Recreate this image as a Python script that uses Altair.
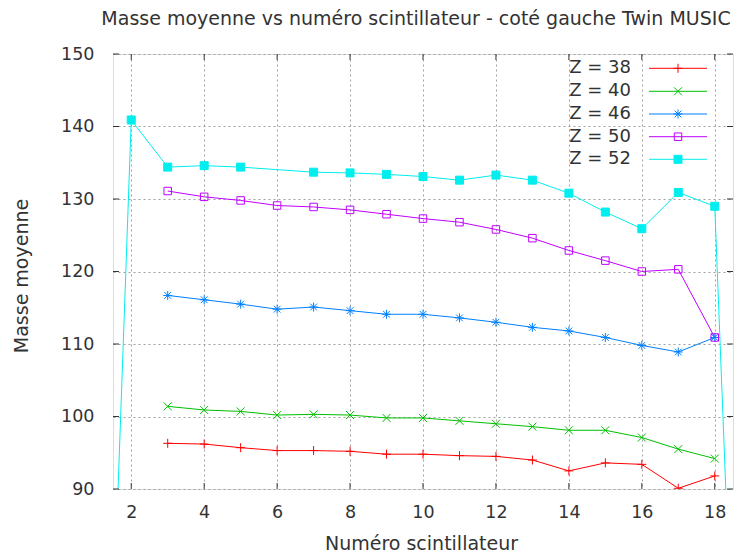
import altair as alt
import pandas as pd

# ---- data ----
x_main = [3, 4, 5, 6, 7, 8, 9, 10, 11, 12, 13, 14, 15, 16, 17, 18]
z38 = [96.3, 96.2, 95.7, 95.3, 95.3, 95.2, 94.8, 94.8, 94.6, 94.5, 94.0, 92.5, 93.6, 93.4, 90.1, 91.8]
z40 = [101.4, 100.9, 100.7, 100.2, 100.3, 100.2, 99.8, 99.8, 99.4, 99.0, 98.6, 98.1, 98.1, 97.1, 95.5, 94.2]
z46 = [116.7, 116.1, 115.5, 114.8, 115.1, 114.6, 114.1, 114.1, 113.6, 113.0, 112.3, 111.8, 110.9, 109.8, 108.9, 110.9]
z50 = [131.1, 130.3, 129.8, 129.1, 128.9, 128.5, 127.9, 127.3, 126.8, 125.8, 124.6, 122.9, 121.5, 120.0, 120.3, 110.9]
x_z52 = [1, 2, 3, 4, 5, 7, 8, 9, 10, 11, 12, 13, 14, 15, 16, 17, 18, 19]
z52 = [0.0, 140.9, 134.4, 134.6, 134.4, 133.7, 133.6, 133.4, 133.1, 132.6, 133.3, 132.6, 130.8, 128.2, 125.9, 130.9, 129.0, 0.0]

labels = ["Z = 38", "Z = 40", "Z = 46", "Z = 50", "Z = 52"]
colors = ["#ff0000", "#00c000", "#0080ff", "#c000ff", "#00eeee"]
x_ticks = [2, 4, 6, 8, 10, 12, 14, 16, 18]
y_ticks = [90, 100, 110, 120, 130, 140, 150]

PLUS = "M-1,0L1,0M0,-1L0,1"
CROSS = "M-1,-1L1,1M-1,1L1,-1"
STAR = "M-1,0L1,0M0,-1L0,1M-0.75,-0.75L0.75,0.75M-0.75,0.75L0.75,-0.75"
SQUARE = "M-1,-1L1,-1L1,1L-1,1Z"
shapes = [PLUS, CROSS, STAR, SQUARE, SQUARE]
fills = ["transparent", "transparent", "transparent", "transparent", "#00eeee"]
sizes = [81, 64, 81, 56, 64]

rows = []
for lab, ys in zip(labels[:4], [z38, z40, z46, z50]):
    for x, y in zip(x_main, ys):
        rows.append({"x": x, "y": y, "serie": lab})
for x, y in zip(x_z52, z52):
    rows.append({"x": x, "y": y, "serie": labels[4]})
df = pd.DataFrame(rows)

W, H = 620, 435
FONT = "DejaVu Sans"
TXT = "#333333"
FS_TICK = 17.5
FS_TITLE = 19
FS_KEY = 18

xs = alt.Scale(domain=[1.5, 18.5], nice=False, zero=False)
ys_ = alt.Scale(domain=[90, 150], nice=False, zero=False)

col_scale = alt.Scale(domain=labels, range=colors)

base = alt.Chart(df)

lines = base.mark_line(strokeWidth=1, clip=True).encode(
    x=alt.X("x:Q", scale=xs,
            axis=alt.Axis(values=x_ticks, title="Numéro scintillateur", grid=True,
                          gridDash=[2, 3], gridColor="#a0a0a0", gridWidth=1,
                          ticks=False, tickSize=0, domain=False,
                          labelFont=FONT, labelFontSize=FS_TICK, labelColor=TXT, labelPadding=14,
                          titleFont=FONT, titleFontSize=FS_TITLE, titleColor=TXT, titleFontWeight="normal",
                          titleBaseline="alphabetic", titleY=60, titleX=308)),
    y=alt.Y("y:Q", scale=ys_,
            axis=alt.Axis(values=y_ticks, title="Masse moyenne", grid=True,
                          gridDash=[2, 3], gridColor="#a0a0a0", gridWidth=1,
                          ticks=False, tickSize=0, domain=False,
                          labelFont=FONT, labelFontSize=FS_TICK, labelColor=TXT, labelPadding=19,
                          titleFont=FONT, titleFontSize=FS_TITLE, titleColor=TXT, titleFontWeight="normal",
                          titleAngle=-90, titleBaseline="alphabetic", titleAlign="center",
                          titleX=-86, titleY=H / 2 + 4)),
    color=alt.Color("serie:N", scale=col_scale, legend=None),
    detail="serie:N",
    order="x:Q",
)

layers = [lines]
for lab, c, shp, f, s in zip(labels, colors, shapes, fills, sizes):
    pts = alt.Chart(df[df["serie"] == lab]).mark_point(
        shape=shp, size=s, stroke=c, fill=f, filled=(f != "transparent"),
        strokeWidth=1, opacity=1, clip=True
    ).encode(x=alt.X("x:Q", scale=xs), y=alt.Y("y:Q", scale=ys_))
    layers.append(pts)

# inner (mirrored) ticks, gnuplot style
tdx = pd.DataFrame({"t": x_ticks})
tdy = pd.DataFrame({"t": y_ticks})
tick_style = dict(color="#333333", strokeWidth=1)
layers.append(alt.Chart(tdx).mark_rule(**tick_style).encode(
    x=alt.X("t:Q", scale=xs), y=alt.value(H), y2=alt.value(H - 6)))
layers.append(alt.Chart(tdx).mark_rule(**tick_style).encode(
    x=alt.X("t:Q", scale=xs), y=alt.value(0), y2=alt.value(6)))
layers.append(alt.Chart(tdy).mark_rule(**tick_style).encode(
    y=alt.Y("t:Q", scale=ys_), x=alt.value(0), x2=alt.value(6)))
layers.append(alt.Chart(tdy).mark_rule(**tick_style).encode(
    y=alt.Y("t:Q", scale=ys_), x=alt.value(W), x2=alt.value(W - 6)))

# key (top right, inside the plot)
one = pd.DataFrame({"k": [0]})
row_y = [14.3, 37.3, 60.0, 82.7, 105.3]
for lab, c, shp, f, s, yy in zip(labels, colors, shapes, fills, sizes, row_y):
    layers.append(alt.Chart(one).mark_text(
        text=lab, font=FONT, fontSize=FS_KEY, color=TXT, align="right", baseline="middle"
    ).encode(x=alt.value(518), y=alt.value(yy)))
    layers.append(alt.Chart(one).mark_rule(color=c, strokeWidth=1).encode(
        x=alt.value(536), x2=alt.value(594), y=alt.value(yy)))
    layers.append(alt.Chart(one).mark_point(
        shape=shp, size=s, stroke=c, fill=f, filled=(f != "transparent"), strokeWidth=1, opacity=1
    ).encode(x=alt.value(565), y=alt.value(yy)))

# title, placed like gnuplot's (centered over the canvas, above the border)
layers.append(alt.Chart(one).mark_text(
    text="Masse moyenne vs numéro scintillateur - coté gauche Twin MUSIC",
    font=FONT, fontSize=FS_TITLE, color=TXT, align="center", baseline="alphabetic"
).encode(x=alt.value(303), y=alt.value(-29)))

chart = alt.layer(*layers).properties(
    width=W, height=H,
    autosize=alt.AutoSizeParams(type="none"),
    padding={"left": 105, "top": 46, "right": 3, "bottom": 62},
).configure_view(stroke="#333333", strokeWidth=1).configure(background="white")

chart.save("out.html", embed_options={"renderer": "svg", "actions": False})
